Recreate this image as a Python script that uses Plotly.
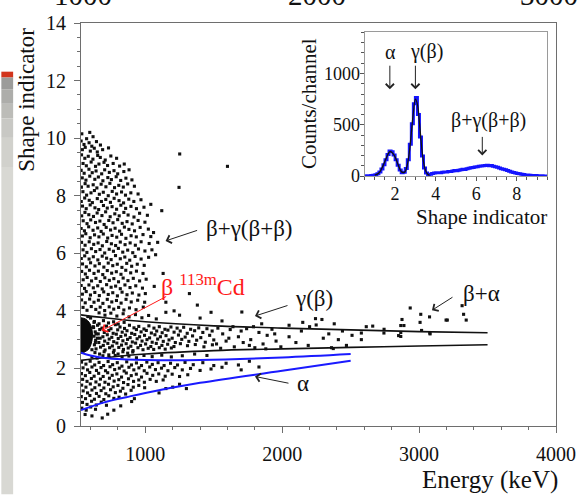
import numpy as np
import plotly.graph_objects as go

SERIF = "Liberation Serif, 'Times New Roman', Times, serif"

# ---------------- main panel: pulse-shape scatter (Energy keV, shape indicator) ----------------
cloud_pairs = [
    (536,10.15),(571,9.98),(594,10.2),(618,10.05),
    (531,9.9),(552,9.78),(589,9.84),(609,9.72),(643,9.88),(672,9.76),
    (540,9.6),(561,9.68),(598,9.55),(627,9.65),(649,9.52),(688,9.6),(731,9.66),
    (534,9.42),(558,9.3),(583,9.37),(617,9.27),(652,9.4),(671,9.33),(707,9.24),(748,9.38),(790,9.3),
    (545,9.12),(569,9.04),(604,9.17),(636,9.02),(661,9.1),(698,9.16),(724,9.05),(765,9.12),(812,9.03),(846,9.1),
    (531,8.88),(553,8.78),(588,8.92),(612,8.8),(640,8.86),(681,8.76),(703,8.9),(737,8.81),(771,8.87),(798,8.76),(843,8.84),(881,8.9),
    (539,8.62),(566,8.54),(594,8.68),(631,8.57),(657,8.65),(690,8.52),(726,8.63),(752,8.56),(787,8.66),(820,8.53),(858,8.61),(902,8.55),
    (533,8.3),(560,8.42),(582,8.33),(619,8.38),(646,8.27),(677,8.4),(712,8.31),(741,8.43),(775,8.28),(806,8.36),(839,8.3),(871,8.41),(920,8.33),
    (544,8.14),(571,8.02),(603,8.1),(628,8.18),(664,8.05),(693,8.12),(729,8.0),(758,8.15),(790,8.06),(826,8.13),(855,8.02),(894,8.1),(947,8.06),
    (532,7.8),(557,7.92),(590,7.84),(613,7.76),(649,7.9),(679,7.8),(711,7.87),(745,7.77),(772,7.91),(808,7.83),(841,7.75),(879,7.88),(916,7.8),(968,7.86),
    (541,7.64),(568,7.55),(597,7.68),(632,7.58),(659,7.52),(694,7.66),(722,7.57),(757,7.62),(790,7.53),(821,7.67),(856,7.56),(895,7.63),(935,7.55),(990,7.6),
    (535,7.3),(559,7.42),(587,7.34),(621,7.28),(648,7.4),(683,7.31),(710,7.44),(743,7.27),(777,7.37),(809,7.3),(843,7.42),(874,7.33),(917,7.26),(958,7.39),(1015,7.32),
    (546,7.13),(574,7.03),(601,7.16),(636,7.07),(668,7.12),(699,7.0),(733,7.14),(764,7.06),(798,7.17),(831,7.04),(866,7.1),(904,7.02),(947,7.14),(997,7.08),
    (531,6.86),(555,6.78),(586,6.92),(618,6.8),(652,6.88),(677,6.76),(714,6.9),(746,6.81),(779,6.87),(812,6.77),(847,6.91),(880,6.83),(921,6.78),(962,6.9),(1022,6.84),
    (540,6.6),(565,6.68),(597,6.54),(629,6.64),(661,6.57),(693,6.67),(725,6.53),(757,6.62),(791,6.56),(826,6.66),(858,6.52),(896,6.61),(934,6.57),(983,6.65),(1040,6.58),
    (534,6.38),(560,6.28),(590,6.4),(623,6.31),(655,6.36),(686,6.26),(718,6.41),(752,6.33),(783,6.27),(817,6.39),(852,6.3),(889,6.36),(927,6.28),(969,6.4),(1028,6.34),
    (545,6.12),(573,6.03),(606,6.16),(637,6.06),(669,6.13),(703,6.01),(736,6.14),(767,6.07),(803,6.17),(835,6.04),(871,6.11),(908,6.02),(950,6.15),(997,6.08),(1048,6.12),
    (532,5.82),(557,5.91),(589,5.8),(620,5.88),(653,5.77),(685,5.9),(717,5.83),(750,5.78),(782,5.92),(817,5.81),(850,5.87),(886,5.76),(925,5.89),(969,5.8),(1024,5.86),
    (541,5.63),(569,5.53),(600,5.67),(632,5.56),(664,5.64),(697,5.52),(729,5.66),(762,5.57),(795,5.62),(829,5.51),(864,5.65),(900,5.55),(941,5.62),(992,5.58),
    (535,5.37),(562,5.28),(592,5.41),(625,5.3),(657,5.38),(689,5.26),(722,5.4),(754,5.31),(788,5.36),(822,5.27),(857,5.41),(893,5.32),(935,5.38),(983,5.3),
    (546,5.08),(575,5.16),(607,5.04),(639,5.13),(671,5.02),(704,5.15),(737,5.06),(770,5.12),(804,5.01),(838,5.14),(873,5.05),(912,5.13),(958,5.04),(1006,5.1),
    (531,4.88),(556,4.78),(588,4.9),(620,4.8),(652,4.87),(685,4.76),(717,4.91),(750,4.82),(783,4.86),(817,4.77),(851,4.9),(888,4.81),(930,4.87),(979,4.79),
    (540,4.58),(568,4.67),(599,4.55),(631,4.64),(664,4.53),(696,4.66),(729,4.57),(762,4.63),(796,4.52),(830,4.65),(866,4.56),(905,4.62),(953,4.55),(1000,4.6),
    (534,4.38),(561,4.28),(593,4.41),(625,4.3),(657,4.37),(690,4.26),(722,4.4),(755,4.31),(789,4.36),(823,4.27),(859,4.4),(897,4.31),(944,4.37),(995,4.3),
    (545,4.12),(574,4.02),(605,4.15),(638,4.05),(670,4.13),(703,4.01),(736,4.14),(769,4.06),(805,4.12),(843,4.03),(884,4.1),(932,4.04),(985,4.13),
    (662,3.93),(705,3.85),(748,3.92),(792,3.82),(838,3.9),(881,3.79),(928,3.87),(975,3.76),(1024,3.84),(1080,3.72),
    (1251,9.45),(1246,8.29),(1600,9.02),(1120,7.48),(1090,6.38),(1060,6.72),(1322,4.6),(1130,5.3),(1075,5.95),
    (1150,4.3),(1210,4.0),(1380,4.2),(1040,7.7),(1065,4.85),
]

band_pairs = [
    (628,3.63),(662,3.55),(694,3.66),(731,3.58),(768,3.62),(802,3.54),(845,3.6),
    (622,3.42),(651,3.5),(683,3.4),(716,3.47),(749,3.38),(781,3.52),(815,3.44),(848,3.39),(884,3.5),(917,3.41),(952,3.46),
    (990,3.37),(1026,3.48),(1063,3.4),(1102,3.45),(1143,3.36),(1187,3.44),(1232,3.4),(1280,3.43),(1331,3.36),(1390,3.41),(1450,3.38),
    (634,3.27),(667,3.35),(700,3.25),(733,3.32),(765,3.22),(798,3.34),(831,3.26),(866,3.31),(900,3.22),(935,3.35),(969,3.27),
    (1007,3.32),(1044,3.23),(1083,3.3),(1123,3.24),(1165,3.33),(1210,3.26),(1255,3.3),(1306,3.22),(1360,3.31),(1420,3.25),(1488,3.3),
    (625,3.12),(656,3.2),(690,3.1),(722,3.17),(755,3.08),(788,3.19),(821,3.11),(855,3.16),(889,3.07),(923,3.18),(958,3.1),
    (994,3.15),(1031,3.06),(1070,3.17),(1110,3.1),(1151,3.14),(1196,3.05),(1242,3.16),(1291,3.09),(1345,3.13),(1405,3.07),(1470,3.15),
    (637,2.98),(670,3.05),(703,2.95),(736,3.02),(769,2.93),(802,3.04),(836,2.96),(870,3.01),(905,2.92),(940,3.03),(976,2.95),
    (1012,3.0),(1050,2.91),(1090,3.02),(1131,2.94),(1173,2.99),(1219,2.9),(1266,3.01),(1318,2.94),(1375,2.98),(1438,2.91),(1500,2.99),
    (628,2.82),(660,2.9),(693,2.8),(726,2.87),(759,2.78),(792,2.88),(826,2.81),(860,2.86),(894,2.77),(929,2.88),(965,2.8),
    (1002,2.85),(1040,2.76),(1080,2.87),(1121,2.8),(1163,2.84),(1209,2.76),(1256,2.86),(1308,2.79),(1365,2.83),(1428,2.75),(1490,2.82),
    (640,2.68),(673,2.74),(706,2.64),(739,2.72),(772,2.63),(806,2.73),(840,2.66),(875,2.71),(910,2.62),(946,2.72),(983,2.65),
    (1021,2.7),(1061,2.66),(1102,2.72),(1145,2.67),(1190,2.71),
    (632,2.55),(666,2.5),(699,2.58),(733,2.47),(767,2.56),(801,2.5),(836,2.58),(871,2.53),(908,2.57),
    (1530,3.4),(1565,3.2),(1590,2.95),(1620,3.35),(1650,2.75),(1680,3.1),(1715,2.9),(1740,3.38),(1770,3.0),(1800,2.72),
    (1830,3.25),(1860,2.85),(1890,3.15),(1925,3.36),(1955,2.95),(1990,2.75),(1550,2.7),(1610,3.05),(1700,3.3),(1760,2.8),
    (1880,2.68),(1945,3.2),(1520,2.85),(1640,3.45),(1790,3.45),
    (620,3.45),(640,3.2),(635,2.9),(625,3.6),(610,2.65),(600,3.75),(580,3.8),(650,3.05),
]

sparse_pairs = [
    (2050,3.1),(2100,2.9),(2140,3.3),(2190,2.8),(2248,3.51),(2290,3.7),(2243,3.73),(2300,3.05),(2340,3.2),(2373,2.69),
    (2410,3.0),(2469,2.8),(2440,3.3),(2510,3.15),(2578,3.0),(2578,3.23),(2614,3.45),(2661,3.47),(2743,3.23),(2744,3.36),
    (2850,3.14),(2866,3.11),(2866,3.25),(2866,3.49),(2889,3.49),(2875,3.7),(3007,3.6),(3018,3.32),(3078,3.23),(3080,3.2),
    (2935,4.1),(3012,3.88),(3076,3.79),(3206,3.68),(3325,3.88),(3344,3.68),(3314,4.18),(3197,3.68),(2360,2.72),
    (2200,3.45),(2380,3.55),(2150,3.6),
    (1705,3.96),(1400,3.75),(1560,3.65),(1250,3.85),(1850,3.55),(1150,3.95),(1480,3.95),(2050,3.5),
]

alpha_pairs = [
    (610,2.4),(648,2.36),(690,2.44),(735,2.38),(780,2.45),(830,2.4),(880,2.43),(935,2.37),(990,2.45),(1050,2.41),
    (1120,2.46),(1190,2.4),(1270,2.44),(1360,2.5),(1450,2.45),
    (534,2.22),(566,2.15),(597,2.25),(630,2.12),(662,2.21),(695,2.1),(728,2.24),(761,2.13),(795,2.2),(829,2.08),
    (864,2.23),(899,2.12),(935,2.19),(972,2.1),(1011,2.22),(1051,2.14),(1093,2.2),(1137,2.1),(1184,2.18),(1235,2.12),
    (1290,2.21),(1350,2.13),(1420,2.2),(1500,2.1),(1590,2.18),(1680,2.12),
    (545,2.02),(578,1.95),(610,2.05),(643,1.93),(676,2.03),(709,1.92),(742,2.06),(776,1.96),(810,2.01),(845,1.91),
    (880,2.04),(916,1.95),(953,2.02),(992,1.92),(1032,2.05),(1074,1.96),(1118,2.01),(1165,1.92),(1215,2.03),(1270,1.95),
    (1330,2.0),(1400,1.93),(1480,1.98),(1560,2.04),
    (533,1.82),(562,1.75),(594,1.86),(626,1.73),(659,1.83),(692,1.72),(725,1.85),(758,1.76),(792,1.81),(826,1.7),
    (861,1.84),(897,1.75),(934,1.8),(972,1.7),(1012,1.83),(1054,1.76),(1098,1.81),(1145,1.73),(1196,1.8),(1250,1.72),(1310,1.78),
    (542,1.62),(574,1.55),(606,1.65),(639,1.53),(672,1.63),(705,1.52),(738,1.66),(772,1.56),(806,1.61),(841,1.51),
    (877,1.64),(914,1.55),(952,1.6),(993,1.52),(1035,1.62),(1080,1.55),(1130,1.6),
    (535,1.42),(566,1.35),(598,1.46),(631,1.33),(664,1.43),(697,1.32),(731,1.45),(765,1.36),(800,1.41),(836,1.31),
    (873,1.44),(912,1.35),(952,1.41),(995,1.33),
    (546,1.22),(578,1.15),(610,1.25),(643,1.13),(677,1.23),(711,1.12),(746,1.26),(781,1.16),(818,1.21),(856,1.11),(896,1.24),
    (532,1.02),(563,0.95),(595,1.06),(628,0.93),(662,1.03),(697,0.92),(733,1.05),(770,0.96),(808,1.0),
    (541,0.82),(574,0.75),(607,0.86),(642,0.73),(678,0.83),(716,0.72),
    (536,0.62),(568,0.55),(601,0.66),(636,0.58),
    (685,0.28),(725,0.41),(560,0.4),(610,0.35),(770,0.55),(820,0.7),(900,0.85),(1150,1.3),(1250,1.45),(1300,1.3),(920,0.95),
    (1100,1.15),(1200,1.35),(1760,2.25),(1830,2.05),(1700,1.95),
]

# dense 113mCd blob at the low-energy edge
blob_e = [530, 560, 588, 606, 614, 608, 590, 562, 530]
blob_s = [2.52, 2.58, 2.68, 2.88, 3.12, 3.40, 3.60, 3.72, 3.76]

# selection boundaries
gamma_e = [530, 700, 1000, 1500, 2000, 2500, 3000, 3500]
gamma_hi = [3.86, 3.76, 3.62, 3.48, 3.40, 3.34, 3.28, 3.24]
gamma_lo = [2.28, 2.37, 2.50, 2.62, 2.68, 2.73, 2.78, 2.82]
alpha_hi_e = [530, 600, 700, 860, 1000, 1400, 2000, 2500]
alpha_hi_s = [2.55, 2.45, 2.36, 2.31, 2.29, 2.29, 2.38, 2.50]
alpha_lo_e = [530, 700, 860, 1000, 1400, 2000, 2500]
alpha_lo_s = [0.55, 0.82, 1.00, 1.15, 1.50, 1.92, 2.27]

# ---------------- inset: shape-indicator distribution ----------------
hist_start = 0.5
hist_width = 0.1
hist_counts = [
    2, 3, 3, 5, 8, 14, 22, 40, 70, 110,
    160, 210, 245, 238, 205, 160, 105, 60, 32, 38,
    75, 160, 310, 510, 705, 765, 600, 380, 195, 80,
    30, 14, 18, 26, 30, 32, 34, 33, 37, 39,
    41, 44, 46, 50, 54, 52, 58, 62, 66, 64,
    72, 76, 82, 84, 89, 92, 95, 98, 101, 104,
    106, 101, 103, 96, 91, 86, 80, 73, 68, 61,
    54, 48, 41, 35, 30, 26, 22, 18, 15, 12,
    10, 8, 7, 5, 5, 4, 3, 3, 2, 2,
]
fit_x = [1.0, 1.2, 1.4, 1.55, 1.75, 1.95, 2.15, 2.3, 2.4, 2.5, 2.6, 2.7, 2.8, 2.9, 3.0, 3.1, 3.2, 3.3, 3.4, 3.5, 3.6, 3.7]
fit_y = [10, 30, 100, 170, 240, 205, 110, 45, 35, 45, 110, 230, 420, 620, 750, 700, 520, 300, 140, 55, 20, 8]

# ---------------- figure ----------------
W, H = 588, 496
ML, MR, MT, MB = 81, 24, 12, 70
PW, PH = W - ML - MR, H - MT - MB


def paper_x(px):
    return (px - ML) / PW


def paper_y(py):
    return (H - MB - py) / PH


fig = go.Figure()

dots = cloud_pairs + band_pairs + sparse_pairs + alpha_pairs
fig.add_trace(go.Scatter(
    x=blob_e, y=blob_s, mode="lines", fill="toself", fillcolor="#0a0a0a",
    line=dict(color="#0a0a0a", width=1, shape="spline"), hoverinfo="skip"))
fig.add_trace(go.Scatter(
    x=[p[0] for p in dots], y=[p[1] for p in dots], mode="markers",
    marker=dict(size=3.1, color="#111111", symbol="square"), hoverinfo="skip"))
for ys in (gamma_hi, gamma_lo):
    fig.add_trace(go.Scatter(x=gamma_e, y=ys, mode="lines",
                             line=dict(color="#111111", width=1.6, shape="spline"), hoverinfo="skip"))
fig.add_trace(go.Scatter(x=alpha_hi_e, y=alpha_hi_s, mode="lines",
                         line=dict(color="#1a1aff", width=2, shape="spline"), hoverinfo="skip"))
fig.add_trace(go.Scatter(x=alpha_lo_e, y=alpha_lo_s, mode="lines",
                         line=dict(color="#1a1aff", width=2, shape="spline"), hoverinfo="skip"))

edges = hist_start + hist_width * np.arange(len(hist_counts) + 1)
fig.add_trace(go.Scatter(x=edges, y=hist_counts + [hist_counts[-1]], mode="lines",
                         line=dict(color="#1414ff", width=3, shape="hv"),
                         xaxis="x2", yaxis="y2", hoverinfo="skip"))
fig.add_trace(go.Scatter(x=fit_x, y=fit_y, mode="lines",
                         line=dict(color="#111111", width=1.3, shape="spline"),
                         xaxis="x2", yaxis="y2", hoverinfo="skip"))

axis_common = dict(showgrid=False, zeroline=False, showline=True, mirror=True,
                   ticks="outside", tickwidth=1)

fig.update_layout(
    width=W, height=H, margin=dict(l=ML, r=MR, t=MT, b=MB),
    paper_bgcolor="white", plot_bgcolor="white", showlegend=False,
    font=dict(family=SERIF, color="#111111", size=20),
    xaxis=dict(axis_common, range=[530, 4000], tick0=0, dtick=1000, ticklen=6,
               linecolor="#6e6e6e", tickcolor="#6e6e6e", tickfont=dict(size=20),
               ticklabelstandoff=4,
               minor=dict(tick0=0, dtick=200, ticks="outside", ticklen=3, tickcolor="#6e6e6e")),
    yaxis=dict(axis_common, range=[0, 14], tick0=0, dtick=2, ticklen=6,
               linecolor="#6e6e6e", tickcolor="#6e6e6e", tickfont=dict(size=20),
               ticklabelstandoff=4,
               minor=dict(tick0=0, dtick=0.5, ticks="outside", ticklen=3, tickcolor="#6e6e6e")),
    xaxis2=dict(axis_common, domain=[paper_x(369.5), paper_x(555)], anchor="y2",
                range=[0.5, 9.5], tick0=0, dtick=2, ticklen=4,
                linecolor="#9a9a9a", tickcolor="#555555", tickfont=dict(size=18),
                ticklabelstandoff=-3,
                minor=dict(tick0=0, dtick=0.5, ticks="outside", ticklen=3, tickcolor="#555555")),
    yaxis2=dict(axis_common, domain=[paper_y(169.3), paper_y(21.7)], anchor="x2",
                range=[0, 1400], tick0=0, dtick=500, ticklen=4,
                linecolor="#9a9a9a", tickcolor="#555555", tickfont=dict(size=18),
                ticklabelstandoff=-4,
                minor=dict(tick0=0, dtick=100, ticks="outside", ticklen=3, tickcolor="#555555")),
)

# slide edge strip on the left
strip = [(62, 68, "#d2341c"), (68, 80, "#9c9c9a"), (80, 95, "#adadaa"), (95, 110, "#bcbcb8"),
         (110, 130, "#c8c8c4"), (130, 160, "#d1d1cc"), (160, 496, "#d8d8d3")]
for top, bot, col in strip:
    fig.add_shape(type="rect", xref="paper", yref="paper", layer="below",
                  x0=paper_x(0), x1=paper_x(12), y0=paper_y(bot), y1=paper_y(top),
                  fillcolor=col, line=dict(width=0))

centered = dict(xanchor="center", yanchor="middle", showarrow=False)
ann = []
# axis titles
ann.append(dict(centered, text="Shape indicator", xref="paper", yref="paper", x=paper_x(26), y=paper_y(91),
                textangle=-90, font=dict(size=23)))
ann.append(dict(centered, text="Energy (keV)", xref="paper", yref="paper", x=paper_x(497), y=paper_y(481),
                font=dict(size=25)))
ann.append(dict(centered, text="Counts/channel", xref="paper", yref="paper", x=paper_x(313), y=paper_y(95),
                textangle=-90, font=dict(size=21)))
ann.append(dict(centered, text="Shape indicator", xref="paper", yref="paper", x=paper_x(488), y=paper_y(211),
                font=dict(size=21)))
# tick labels of the panel above, cut by the page edge
for lbl, px in (("1000", 83), ("2000", 321), ("3000", 557)):
    ann.append(dict(text=lbl, xref="paper", yref="paper", x=paper_x(px), y=1, xanchor="center",
                    yanchor="bottom", yshift=10, showarrow=False, font=dict(size=29)))

# main-panel labels
ann += [
    dict(centered, text="β+γ(β+β)", x=1758, y=6.86, font=dict(size=23)),
    dict(centered, text="γ(β)", x=2232, y=4.43, font=dict(size=23)),
    dict(centered, text="β+α", x=3453, y=4.6, font=dict(size=23)),
    dict(centered, text="α", x=2153, y=1.49, font=dict(size=23)),
    dict(text="β <sup>113m</sup>Cd", x=1097, y=4.9, xanchor="left", yanchor="middle", showarrow=False,
         font=dict(size=24, color="#ff1a1a")),
]
for tip_e, tip_s, dx, dy, col in ((1148, 6.43, 33, -11, "#222222"),
                                  (681, 3.31, 66, -35, "#ff1a1a"),
                                  (1801, 3.82, 34, -11, "#222222"),
                                  (3094, 4.02, 22, -14, "#222222"),
                                  (1801, 1.72, 35, 7, "#222222")):
    ann.append(dict(text="", x=tip_e, y=tip_s, ax=dx, ay=dy, showarrow=True, arrowhead=4,
                    arrowsize=1.6, arrowwidth=1, arrowcolor=col, standoff=0))

# inset labels
ann += [
    dict(centered, text="α", x=1.78, y=1210, xref="x2", yref="y2", font=dict(size=20)),
    dict(centered, text="γ(β)", x=3.53, y=1210, xref="x2", yref="y2", font=dict(size=20)),
    dict(centered, text="β+γ(β+β)", x=6.59, y=543, xref="x2", yref="y2", font=dict(size=20)),
]
for tip_x, tip_y, dy in ((1.74, 847, -25), (3.0, 847, -25), (6.3, 202, -20)):
    ann.append(dict(text="", x=tip_x, y=tip_y, xref="x2", yref="y2", ax=0, ay=dy, showarrow=True,
                    arrowhead=4, arrowsize=1.6, arrowwidth=1, arrowcolor="#222222", standoff=0))

fig.update_layout(annotations=ann)
fig.write_html("out.html")
